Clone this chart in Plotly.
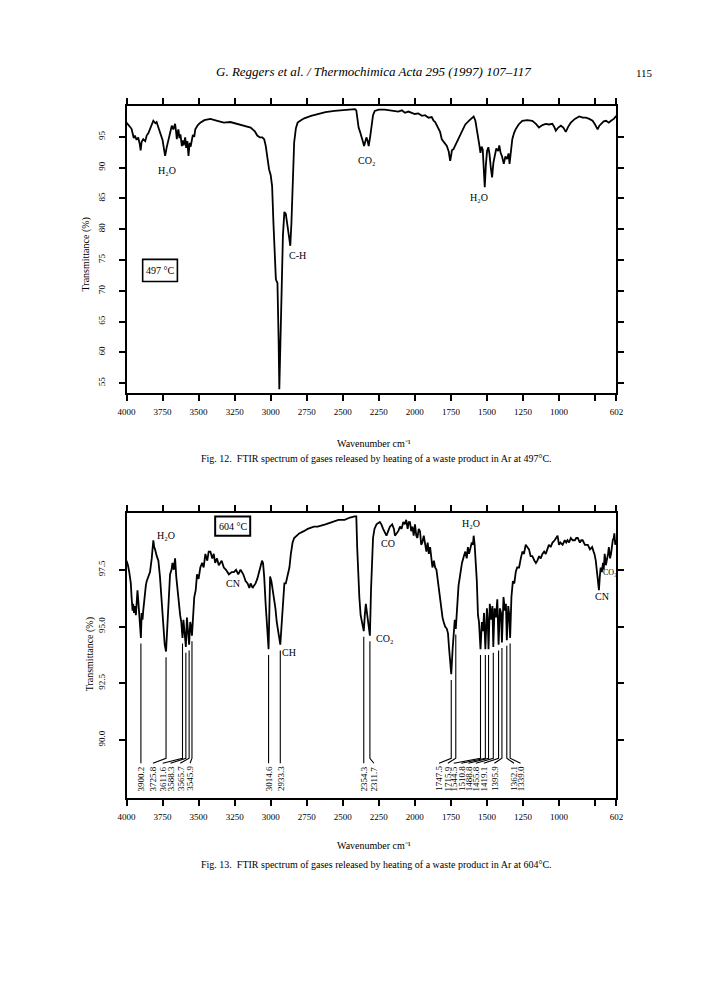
import numpy as np
import plotly.graph_objects as go

# ---------------- data ----------------
wn_497 = [4000, 3985, 3965, 3950, 3942, 3930, 3919, 3908, 3902, 3895, 3884, 3870, 3860, 3848, 3837,
          3825, 3814, 3800, 3791, 3780, 3767, 3750, 3740, 3732, 3722, 3709, 3698, 3686, 3675, 3663,
          3657, 3651, 3645, 3640, 3633, 3626, 3616, 3610, 3603, 3593, 3586, 3578, 3570, 3562, 3555,
          3547, 3540, 3530, 3523, 3505, 3488, 3460, 3418, 3370, 3325, 3280, 3232, 3185, 3139, 3110,
          3093, 3075, 3058, 3045, 3034, 3022, 3011, 3000, 2990, 2981, 2972, 2964, 2958, 2953, 2945,
          2940, 2932, 2925, 2915, 2905, 2895, 2883, 2872, 2864, 2856, 2848, 2842, 2837, 2825, 2813,
          2790, 2767, 2720, 2674, 2620, 2557, 2500, 2441, 2415, 2406, 2398, 2390, 2380, 2371, 2360,
          2352, 2342, 2336, 2328, 2320, 2310, 2301, 2290, 2278, 2250, 2208, 2160, 2115, 2090, 2069,
          2045, 2022, 2000, 1976, 1950, 1929, 1905, 1883, 1870, 1859, 1848, 1836, 1825, 1813, 1800,
          1790, 1778, 1765, 1755, 1748, 1743, 1732, 1720, 1705, 1685, 1668, 1650, 1620, 1592, 1580,
          1569, 1555, 1545, 1537, 1529, 1522, 1515, 1507, 1499, 1490, 1482, 1473, 1464, 1455, 1446,
          1435, 1422, 1414, 1406, 1395, 1383, 1372, 1360, 1350, 1343, 1334, 1324, 1312, 1301, 1280,
          1255, 1220, 1185, 1160, 1139, 1115, 1092, 1070, 1046, 1033, 1022, 1005, 987, 970, 953,
          935, 918, 890, 860, 835, 813, 790, 767, 750, 732, 720, 708, 690, 673, 655,
          639, 620, 602]
tr_497 = [97.3, 96.8, 96.3, 94.8, 95.2, 94.5, 94.9, 93.8, 92.8, 94.2, 94.6, 94.3, 95.2, 95.6, 96.2,
          96.9, 97.6, 97.2, 97.4, 96.6, 95.7, 94.5, 93.0, 91.9, 93.2, 94.6, 95.6, 96.8, 96.2, 97.1,
          96.0, 94.6, 95.8, 96.2, 94.8, 95.4, 93.5, 94.4, 93.6, 94.9, 93.2, 94.3, 91.9, 94.0, 93.4,
          94.6, 95.3, 95.0, 96.2, 96.9, 97.3, 97.7, 97.9, 97.6, 97.3, 97.4, 97.1, 96.9, 96.5, 95.9,
          95.2, 94.9, 94.9, 94.6, 93.5, 91.5, 89.7, 88.8, 87.0, 81.1, 75.0, 71.9, 71.5, 71.3, 62.0,
          54.0, 62.0, 70.0, 79.0, 82.8, 82.5, 80.5, 78.0, 77.3, 81.0, 86.5, 91.0, 94.1, 96.4, 97.3,
          97.7, 98.0, 98.4, 98.7, 99.0, 99.2, 99.3, 99.4, 99.5, 99.3, 97.5, 96.5, 95.8, 95.2, 94.2,
          93.5, 94.6, 94.9, 94.4, 93.5, 95.0, 96.8, 98.5, 99.2, 99.4, 99.4, 99.3, 99.1, 99.3, 98.9,
          99.1, 98.9, 98.7, 98.8, 98.4, 98.5, 98.1, 98.2, 97.6, 97.4, 96.9, 96.5, 95.8, 94.6, 94.2,
          93.8, 93.5, 92.6, 91.1, 92.0, 92.8, 93.0, 93.6, 94.4, 95.3, 96.1, 97.0, 97.7, 98.3, 97.6,
          96.2, 94.0, 92.4, 93.4, 92.9, 90.5, 86.8, 90.5, 92.7, 93.3, 92.2, 90.0, 88.4, 90.8, 91.9,
          93.1, 92.7, 93.6, 92.5, 91.8, 90.6, 91.8, 91.4, 92.3, 90.6, 92.8, 94.6, 95.6, 96.2, 97.0,
          97.6, 97.7, 97.6, 97.1, 96.5, 96.9, 97.1, 97.0, 97.1, 96.6, 96.0, 96.5, 96.8, 96.5, 95.8,
          96.7, 97.3, 97.9, 98.3, 98.1, 98.1, 97.9, 97.6, 97.0, 96.2, 96.8, 97.1, 97.5, 97.6, 97.3,
          97.6, 97.9, 98.4]

wn_604 = [4000, 3990, 3981, 3970, 3965, 3958, 3954, 3948, 3942, 3935, 3930, 3924, 3919, 3912, 3906,
          3900.2, 3895, 3889, 3884, 3875, 3866, 3860, 3848, 3837, 3825, 3814, 3808, 3802, 3790, 3779,
          3768, 3756, 3745, 3735, 3725.8, 3716, 3706, 3698, 3688, 3681, 3672, 3663, 3655, 3646, 3638,
          3628, 3620, 3611.6, 3605, 3598, 3588.3, 3581, 3574, 3565.7, 3558, 3552, 3545.9, 3538, 3530,
          3520, 3511, 3500, 3488, 3475, 3465, 3453, 3440, 3430, 3418, 3405, 3395, 3385, 3372, 3360,
          3340, 3325, 3310, 3290, 3270, 3255, 3240, 3225, 3209, 3190, 3174, 3160, 3148, 3139, 3125,
          3116, 3105, 3093, 3080, 3069, 3060, 3053, 3045, 3035, 3025, 3014.6, 3008, 3004, 2995, 2985,
          2976, 2967, 2958, 2950, 2940, 2933.3, 2925, 2913, 2905, 2895, 2885, 2870, 2860, 2848, 2837,
          2820, 2802, 2770, 2743, 2700, 2674, 2620, 2581, 2530, 2487, 2450, 2418, 2406, 2400, 2394,
          2385, 2376, 2365, 2354.3, 2347, 2340, 2332, 2322, 2311.7, 2304, 2296, 2290, 2280, 2266, 2243,
          2232, 2220, 2208, 2197, 2185, 2173, 2157, 2145, 2138, 2128, 2115, 2103, 2092, 2080, 2069,
          2060, 2050, 2042, 2034, 2025, 2017, 2008, 1999, 1990, 1982, 1973, 1964, 1956, 1948, 1938,
          1929, 1920, 1911, 1903, 1894, 1886, 1878, 1868, 1859, 1850, 1841, 1830, 1824, 1815, 1808,
          1800, 1790, 1778, 1770, 1762, 1755, 1747.5, 1738, 1730, 1723, 1715.9, 1708, 1697, 1685, 1673,
          1660, 1650, 1640, 1632, 1624, 1615, 1605, 1597, 1592, 1585, 1578, 1570, 1562, 1555, 1544.5,
          1535, 1527, 1520, 1510.8, 1500, 1494, 1488.8, 1480, 1470, 1462, 1455.8, 1447, 1437, 1428, 1419.1,
          1410, 1402, 1395.9, 1385, 1375, 1368, 1362.1, 1352, 1345, 1339.0, 1330, 1320, 1310, 1300, 1290,
          1277, 1265, 1254, 1243, 1231, 1220, 1208, 1197, 1185, 1170, 1160, 1150, 1138, 1127, 1115,
          1103, 1092, 1081, 1070, 1058, 1045, 1030, 1020, 1010, 1000, 990, 975, 960, 950, 941,
          930, 918, 905, 890, 880, 870, 855, 845, 836, 820, 810, 800, 785, 770, 760,
          754, 745, 737, 730, 723, 717, 711, 703, 695, 690, 683, 675, 667, 660, 654,
          646, 639, 633, 627, 620, 616, 610, 602]
tr_604 = [97.9, 97.7, 97.4, 96.9, 96.3, 95.7, 96.0, 95.6, 95.9, 95.5, 96.0, 96.6, 96.2, 95.6, 95.0,
          94.5, 95.6, 95.3, 95.7, 96.4, 96.8, 97.0, 97.2, 97.4, 98.0, 98.8, 98.5, 98.4, 98.1, 97.9,
          97.2, 96.2, 95.0, 94.2, 93.9, 95.2, 96.5, 97.3, 97.5, 97.8, 97.5, 98.0, 97.2, 96.6, 96.0,
          95.5, 95.2, 94.5, 95.3, 94.9, 94.1, 95.4, 94.9, 94.2, 95.2, 95.0, 94.6, 95.8, 96.3,
          96.6, 97.3, 97.1, 97.6, 97.8, 97.6, 98.2, 97.9, 98.3, 98.3, 98.0, 98.2, 97.8, 98.0, 97.7,
          97.9, 97.6, 97.5, 97.3, 97.4, 97.4, 97.5, 97.3, 97.5, 97.3, 97.0, 96.9, 96.7, 96.9, 96.7,
          96.8, 96.9, 97.1, 97.4, 97.6, 97.9, 97.8, 97.2, 96.0, 95.0, 94.0, 96.0, 97.2, 97.0, 96.6,
          96.2, 95.8, 95.2, 94.8, 94.4, 94.2, 95.0, 96.5, 96.9, 96.9, 97.2, 97.6, 98.2, 98.7, 98.9,
          99.0, 99.1, 99.2, 99.3, 99.4, 99.4, 99.5, 99.6, 99.7, 99.7, 99.8, 99.85, 99.85, 98.5, 97.3,
          96.3, 95.5, 95.1, 94.8, 95.5, 96.0, 95.6, 95.0, 94.6, 96.6, 98.2, 98.9, 99.3, 99.5, 99.6,
          99.5, 99.3, 99.1, 99.0, 99.2, 99.4, 99.5, 99.3, 99.0, 99.1, 99.2, 99.4, 99.3, 99.6, 99.5,
          99.7, 99.3, 99.6, 99.6, 99.2, 99.4, 99.0, 99.5, 99.0, 98.9, 99.3, 99.2, 98.6, 98.7, 99.0,
          98.6, 98.3, 98.7, 98.2, 98.5, 97.9, 97.6, 97.9, 97.6, 97.5, 97.0, 96.6, 96.2, 95.5, 95.4,
          95.2, 95.0, 94.9, 94.7, 94.0, 93.5, 92.9, 94.0, 95.0, 95.3, 94.9, 95.8, 96.8, 97.3, 97.8,
          98.1, 98.3, 98.0, 98.5, 98.2, 98.4, 98.7, 98.6, 99.0, 98.6, 98.0, 97.0, 95.5, 95.2, 94.0,
          95.2, 94.8, 95.6, 94.0, 95.8, 95.2, 94.0, 96.0, 95.3, 95.9, 94.1, 95.8, 95.4, 96.2, 94.2,
          95.8, 95.6, 94.3, 96.3, 95.7, 96.0, 94.4, 95.9, 95.5, 94.5, 96.3, 97.0, 96.9, 97.4, 97.6,
          97.6, 98.0, 98.3, 98.2, 98.6, 98.5, 98.4, 98.1, 98.1, 97.9, 97.8, 97.9, 98.1, 98.0, 98.2,
          98.3, 98.2, 98.4, 98.6, 98.5, 98.7, 98.8, 98.9, 99.0, 98.6, 98.7, 98.6, 98.8, 98.7, 98.8,
          98.7, 98.9, 98.8, 98.8, 98.9, 98.9, 98.7, 98.8, 98.8, 98.6, 98.6, 98.6, 98.4, 98.5, 98.3,
          98.2, 97.9, 97.4, 97.0, 96.6, 97.2, 97.6, 97.4, 97.8, 97.5, 98.2, 97.7, 97.9, 98.2, 98.5,
          98.0, 98.2, 98.6, 98.8, 98.9, 99.1, 98.6, 98.8]

peak_wn = [3900.2, 3725.8, 3611.6, 3588.3, 3565.7, 3545.9, 3014.6, 2933.3, 2354.3, 2311.7,
           1747.5, 1715.9, 1544.5, 1510.8, 1488.8, 1455.8, 1419.1, 1395.9, 1362.1, 1339.0]
peak_text = [f"{w:.1f}" for w in peak_wn]

tick_wn = [4000, 3750, 3500, 3250, 3000, 2750, 2500, 2250, 2000, 1750, 1500, 1250, 1000, 602]
tick_text = ["4000", "3750", "3500", "3250", "3000", "2750", "2500", "2250", "2000",
             "1750", "1500", "1250", "1000", "602"]
minor_tick_wn = [750]
ytick_497 = [55, 60, 65, 70, 75, 80, 85, 90, 95]
ytick_604 = [90.0, 92.5, 95.0, 97.5]

# ---------------- layout helpers (positions, not data) ----------------
label_wn = [3900.2, 3817, 3749, 3695, 3627, 3559, 3014.6, 2933.3, 2354.3, 2284,
            1832, 1771, 1730, 1678, 1628, 1577, 1522, 1448, 1312, 1267]
Y_BEND, Y_END, Y_TXT = 89.2, 88.98, 88.30

W, H = 720, 999
def px(x):
    return x / W
def py(y):
    return 1 - y / H

SERIF = "Liberation Serif"
BLACK = "black"

fig = go.Figure()
fig.add_trace(go.Scatter(x=wn_497, y=tr_497, mode="lines", xaxis="x", yaxis="y",
                         line=dict(color=BLACK, width=1.8), hoverinfo="skip"))
fig.add_trace(go.Scatter(x=wn_604, y=tr_604, mode="lines", xaxis="x2", yaxis="y2",
                         line=dict(color=BLACK, width=1.8), hoverinfo="skip"))

wr = np.array(wn_604[::-1], dtype=float)
tr = np.array(tr_604[::-1], dtype=float)
lx, ly = [], []
for w, lw in zip(peak_wn, label_wn):
    top = float(np.interp(w, wr, tr)) - 0.25
    lx += [w, w, lw, None]
    ly += [top, Y_BEND, Y_END, None]
fig.add_trace(go.Scatter(x=lx, y=ly, mode="lines", xaxis="x2", yaxis="y2",
                         line=dict(color=BLACK, width=1.1), hoverinfo="skip"))

ann = []
for t, lw in zip(peak_text, label_wn):
    ann.append(dict(x=lw, y=Y_TXT, xref="x2", yref="y2", text=t, textangle=-90,
                    showarrow=False, font=dict(family=SERIF, size=9, color=BLACK),
                    xanchor="center", yanchor="middle"))

def lab(x, y, t, ax="x", ay="y", size=10):
    ann.append(dict(x=x, y=y, xref=ax, yref=ay, text=t, showarrow=False,
                    font=dict(family=SERIF, size=size, color=BLACK),
                    xanchor="center", yanchor="middle"))

# top chart labels
lab(3722, 89.6, "H₂O")
lab(2338, 91.2, "CO₂")
lab(1552, 85.2, "H₂O")
lab(2813, 75.8, "C-H")
lab(3768, 73.3, "497 °C")
# bottom chart labels
lab(3729, 99.0, "H₂O", "x2", "y2")
lab(3261, 96.9, "CN", "x2", "y2")
lab(2874, 93.86, "CH", "x2", "y2")
lab(2189, 98.64, "CO", "x2", "y2")
lab(2209, 94.47, "CO₂", "x2", "y2")
lab(1613, 99.52, "H₂O", "x2", "y2")
lab(649, 97.37, "CO₂", "x2", "y2", size=8)
lab(704, 96.32, "CN", "x2", "y2")
lab(3263, 99.42, "604 °C", "x2", "y2")

def ptxt(x, y, t, size=9, angle=0, italic=False):
    ann.append(dict(x=px(x), y=py(y), xref="paper", yref="paper", text=t, showarrow=False,
                    textangle=angle, xanchor="center", yanchor="middle",
                    font=dict(family=SERIF, size=size, color=BLACK,
                              style="italic" if italic else "normal")))

ptxt(365, 63, "G. Reggers et al. / Thermochimica Acta 295 (1997) 107–117", size=13, italic=True)
ptxt(642, 65, "115", size=11)
ptxt(71, 246, "Transmittance (%)", size=10, angle=-90)
ptxt(75, 646, "Transmittance (%)", size=10, angle=-90)
ptxt(365, 436, "Wavenumber cm⁻¹", size=10)
ptxt(365, 837, "Wavenumber cm⁻¹", size=10)
ptxt(368, 451, "Fig. 12.  FTIR spectrum of gases released by heating of a waste product in Ar at 497°C.", size=10)
ptxt(368, 856, "Fig. 13.  FTIR spectrum of gases released by heating of a waste product in Ar at 604°C.", size=10)

shapes = [
    dict(type="rect", xref="x", yref="y", x0=3888, x1=3647, y0=71.5, y1=75.1,
         line=dict(color=BLACK, width=1.6), fillcolor="rgba(0,0,0,0)"),
    dict(type="rect", xref="x2", yref="y2", x0=3385, x1=3142, y0=99.0, y1=99.85,
         line=dict(color=BLACK, width=2), fillcolor="rgba(0,0,0,0)"),
]

xax = dict(range=[4000, 602], tickmode="array", tickvals=tick_wn, ticktext=tick_text,
           ticks="outside", ticklen=6, tickwidth=1.5, tickcolor=BLACK,
           minor=dict(tickmode="array", tickvals=minor_tick_wn, ticks="outside",
                      ticklen=6, tickwidth=1.5, tickcolor=BLACK),
           showline=True, linecolor=BLACK, linewidth=1.5, mirror="ticks",
           showgrid=False, zeroline=False, ticklabelstandoff=3,
           tickfont=dict(family=SERIF, size=9, color=BLACK),
           domain=[px(112), px(613)])
yax = dict(ticks="outside", ticklen=6, tickwidth=1.5, tickcolor=BLACK,
           showline=True, linecolor=BLACK, linewidth=1.5, mirror="ticks",
           showgrid=False, zeroline=False, tickangle=-90, ticklabelstandoff=10,
           tickfont=dict(family=SERIF, size=9, color=BLACK), tickmode="array")

fig.update_layout(
    width=W, height=H, autosize=False,
    margin=dict(l=0, r=0, t=0, b=0),
    paper_bgcolor="white", plot_bgcolor="white",
    showlegend=False,
    xaxis=dict(xax, anchor="y"),
    xaxis2=dict(xax, anchor="y2"),
    yaxis=dict(yax, range=[53.4, 100], tickvals=ytick_497,
               ticktext=[str(v) for v in ytick_497],
               domain=[py(385), py(98)], anchor="x"),
    yaxis2=dict(yax, range=[87.45, 100], tickvals=ytick_604,
                ticktext=[f"{v:.1f}" for v in ytick_604],
                domain=[py(790), py(505)], anchor="x2"),
    annotations=ann,
    shapes=shapes,
)

fig.write_html("out.html")
